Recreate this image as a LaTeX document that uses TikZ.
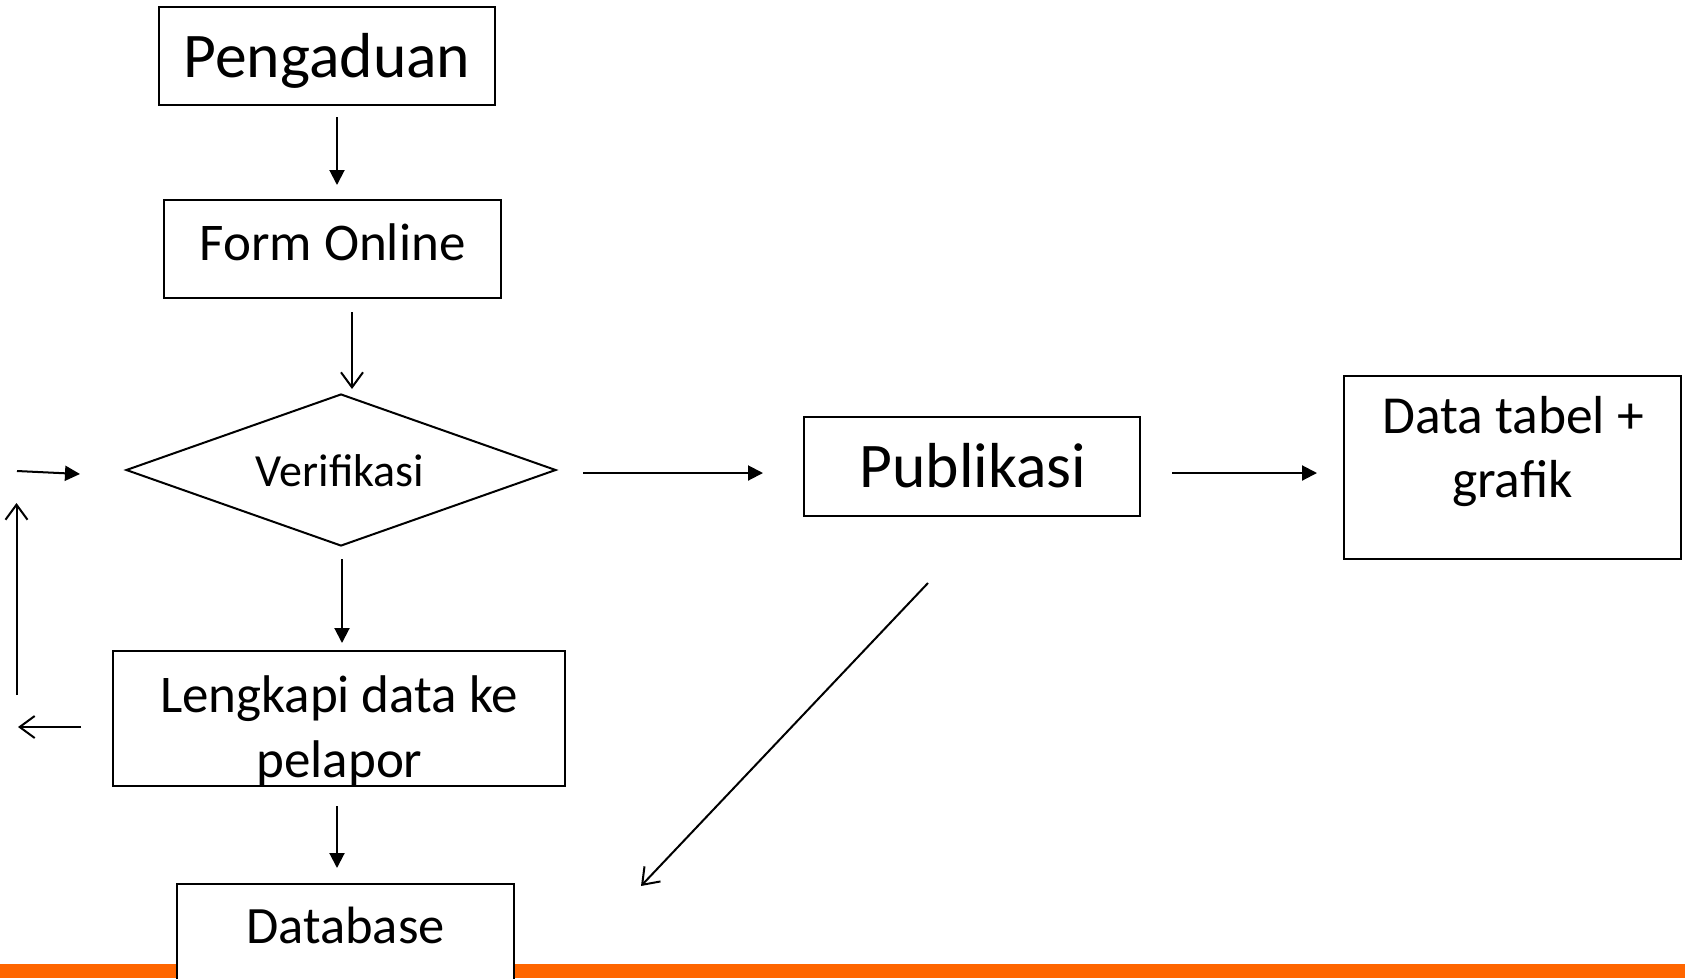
\documentclass[tikz,border=0pt]{standalone}
\usepackage{fontspec}
\setmainfont{Carlito}
\usetikzlibrary{arrows.meta,shapes.geometric}
\definecolor{barorange}{RGB}{255,102,0}
\tikzset{
  box/.style={draw=black,line width=2pt,fill=white,inner sep=0pt},
  lbl/.style={anchor=base,inner sep=0pt},
  farrow/.style={line width=2pt,-{Triangle[length=15pt,width=15pt]}},
  oarrow/.style={line width=2pt,-{Straight Barb[length=15pt,width=22pt,line width=2pt]}},
}
\begin{document}
\begin{tikzpicture}[x=1pt,y=-1pt]
\useasboundingbox (0,0) rectangle (1685,978);
\clip (0,0) rectangle (1685,978);
\fill[barorange] (0,964) rectangle (1685,978);

\node[box,minimum width=336pt,minimum height=97.5pt] (peng) at (327,56) {};
\node[box,minimum width=337pt,minimum height=98pt] (form) at (332.5,249) {};
\node[box,diamond,minimum width=430pt,minimum height=152pt,aspect=2.83] (verif) at (341,470) {};
\node[box,minimum width=336pt,minimum height=99pt] (pub) at (972,466.5) {};
\node[box,minimum width=337pt,minimum height=183pt] (data) at (1512.5,467.5) {};
\node[box,minimum width=452pt,minimum height=135pt] (lengk) at (339,718.5) {};
\node[box,minimum width=337pt,minimum height=150pt] (db) at (345.5,959) {};

\node[lbl,font=\fontsize{63.6}{76}\selectfont] (tpeng) at (327,77) {Pengaduan};
\node[lbl,font=\fontsize{53}{64}\selectfont] (tform) at (332.6,260) {Form Online};
\node[lbl,font=\fontsize{46}{56}\selectfont] (tverif) at (340,486) {Verifikasi};
\node[lbl,font=\fontsize{63.6}{76}\selectfont] (tpub) at (973,487) {Publikasi};
\node[lbl,font=\fontsize{53.5}{64}\selectfont] (tdata1) at (1513,433) {Data tabel +};
\node[lbl,font=\fontsize{53.5}{64}\selectfont] (tdata2) at (1512.5,497) {grafik};
\node[lbl,font=\fontsize{53}{64}\selectfont] (tlen1) at (339,712) {Lengkapi data ke};
\node[lbl,font=\fontsize{53}{64}\selectfont] (tlen2) at (339.5,777) {pelapor};
\node[lbl,font=\fontsize{52.5}{64}\selectfont] (tdb) at (345.5,943) {Database};

% connector end points
\coordinate (a1) at (337,117);  \coordinate (a2) at (337,185);
\coordinate (b1) at (352,312);  \coordinate (b2) at (352,389);
\coordinate (c1) at (583,473);  \coordinate (c2) at (763,473);
\coordinate (d1) at (1172,473); \coordinate (d2) at (1317,473);
\coordinate (e1) at (342,559);  \coordinate (e2) at (342,643);
\coordinate (f1) at (337,806);  \coordinate (f2) at (337,868);
\coordinate (g1) at (928,583);  \coordinate (g2) at (641,886);
\coordinate (h1) at (81,727);   \coordinate (h2) at (18,727);
\coordinate (i1) at (16.5,695); \coordinate (i2) at (16.5,503);
\coordinate (j1) at (17,471);   \coordinate (j2) at (80,474);

\draw[farrow] (a1) -- (a2);
\draw[oarrow] (b1) -- (b2);
\draw[farrow] (c1) -- (c2);
\draw[farrow] (d1) -- (d2);
\draw[farrow] (e1) -- (e2);
\draw[farrow] (f1) -- (f2);
\draw[oarrow] (g1) -- (g2);
\draw[oarrow] (h1) -- (h2);
\draw[oarrow] (i1) -- (i2);
\draw[farrow] (j1) -- (j2);
\end{tikzpicture}
\end{document}
